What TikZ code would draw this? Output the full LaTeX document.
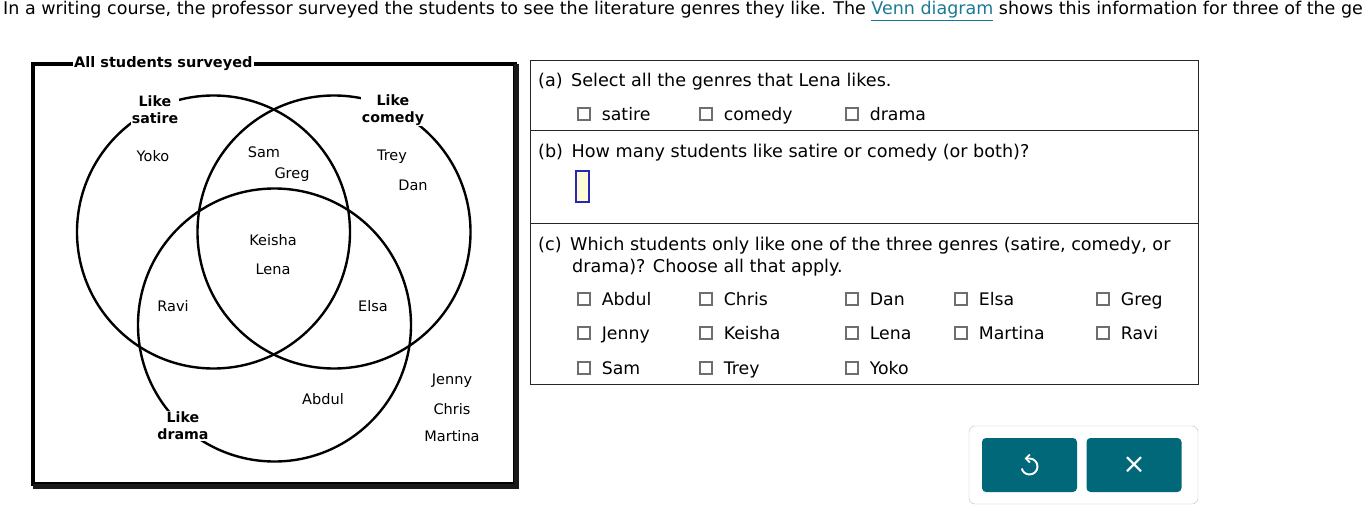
\documentclass[tikz,border=0pt]{standalone}
\usepackage{fontspec}
\setmainfont{DejaVu Sans}
\usetikzlibrary{positioning,arrows.meta}

\definecolor{linkteal}{RGB}{26,122,150}
\definecolor{btnteal}{RGB}{0,104,120}
\definecolor{boxgray}{RGB}{110,110,110}
\definecolor{inputfill}{RGB}{255,251,214}
\definecolor{inputblue}{RGB}{40,40,180}

\begin{document}
\begin{tikzpicture}[
            x = 1pt, y = -1pt, % one unit per pixel, y going down
            ring/.style = {circle, draw, line width=2.4pt, inner sep=0pt, minimum size=273pt},
            setlabel/.style = {font=\fontsize{14.2}{17}\selectfont\bfseries, fill=white, inner sep=1pt, align=center},
            kid/.style = {font=\fontsize{14.5}{16}\selectfont, inner sep=0pt},
            prompt/.style = {font=\fontsize{17.6}{22}\selectfont, inner sep=0pt, anchor=base west},
            chk/.style = {draw=boxgray, line width=1.3pt, minimum size=12pt, inner sep=0pt},
            opt/.style = {font=\fontsize{17.3}{20}\selectfont, inner sep=0pt, text height=15pt, text depth=3pt},
            panel/.style = {draw=black!85, line width=0.9pt, minimum width=668pt, inner sep=0pt},
            btn/.style = {fill=btnteal, rounded corners=4pt, minimum width=95pt, minimum height=54pt, text=white}
        ]
    \useasboundingbox (0,0) rectangle (1368,511);
    \clip (0,0) rectangle (1368,511);

    % question text
    \node[prompt, font=\fontsize{17.5}{22}\selectfont] (intro) at (3,15) {In a writing course, the professor surveyed the students to see the literature genres they like. The \textcolor{linkteal}{\underline{Venn diagram}} shows this information for three of the ge};

    % venn diagram
    \draw[line width=4pt] (33,64) rectangle (515,484);
    \draw[line width=5pt, black!90] (516,64) -- (516,486) -- (33,486);
    \node[setlabel, anchor=west, font=\fontsize{14.5}{16}\selectfont\bfseries] (all) at (73,64) {All students surveyed};

    \node[ring] (satire) at (213.5,232) {};
    \node[ring] (comedy) at (334,232) {};
    \node[ring] (drama) at (274.5,325) {};

    \node[setlabel] (lsatire) at (155,110) {Like\\satire};
    \node[setlabel] (lcomedy) at (393,110) {Like\\comedy};
    \node[setlabel] (ldrama) at (183,426) {Like\\drama};

    \node[kid] (yoko) at (153,156) {Yoko};
    \node[kid] (sam) at (264,152) {Sam};
    \node[kid] (greg) at (292,175) {Greg};
    \node[kid] (trey) at (392,157) {Trey};
    \node[kid] (dan) at (413,185) {Dan};
    \node[kid] (keisha) at (273,240) {Keisha};
    \node[kid] (lena) at (273,269) {Lena};
    \node[kid] (ravi) at (173,306) {Ravi};
    \node[kid] (elsa) at (373,306) {Elsa};
    \node[kid] (abdul) at (323,399) {Abdul};
    \node[kid] (jenny) at (452,381) {Jenny};
    \node[kid] (chris) at (452,409) {Chris};
    \node[kid] (martina) at (452,436) {Martina};

    % answer panel
    \node[panel, minimum height=70pt, anchor=north west] (pa) at (530,60) {};
    \node[panel, minimum height=93pt, anchor=north west] (pb) at (530,130) {};
    \node[panel, minimum height=161pt, anchor=north west] (pc) at (530,223) {};

    \node[prompt] (qa) at (538,87) {(a)\, Select all the genres that Lena likes.};
    \foreach \nm/\cx in {satire/584, comedy/706, drama/852}
        {
        \node[chk] (a-\nm) at (\cx,114) {};
        \node[opt, right=11pt of a-\nm] (ta-\nm) {\nm};
        }

    \node[prompt] (qb) at (538,157) {(b)\, How many students like satire or comedy (or both)?};
    \node[draw=inputblue, fill=inputfill, line width=1.2pt, minimum width=13pt, minimum height=31pt, inner sep=0pt] (ans) at (582.5,186.5) {};

    \node[prompt] (qc) at (538,250) {(c)\, Which students only like one of the three genres (satire, comedy, or};
    \node[prompt] (qc2) at (572,272) {drama)? Choose all that apply.};
    \foreach \nm/\cx/\ry in {Abdul/584/299, Chris/706/299, Dan/852/299, Elsa/961/299, Greg/1103/299,
                             Jenny/584/333, Keisha/706/333, Lena/852/333, Martina/961/333, Ravi/1103/333,
                             Sam/584/368, Trey/706/368, Yoko/852/368}
        {
        \node[chk] (c-\nm) at (\cx,\ry) {};
        \node[opt, right=11pt of c-\nm] (tc-\nm) {\nm};
        }

    % buttons
    \node[draw=black!25, fill=white, rounded corners=6pt, minimum width=229pt, minimum height=78pt] (tray) at (1083.5,465) {};
    \node[btn] (undo) at (1029.5,465) {};
    \node[btn] (close) at (1134,465) {\fontsize{28}{28}\selectfont ×};
    \begin{scope}[shift={(undo.center)}, y=1pt] % undo arrow
        \draw[white, line width=1.9pt, {Straight Barb[length=4pt, width=8pt]}-] (-5,6.5) -- (0,6.5) arc[start angle=90, end angle=-165, radius=8];
    \end{scope}
\end{tikzpicture}
\end{document}
